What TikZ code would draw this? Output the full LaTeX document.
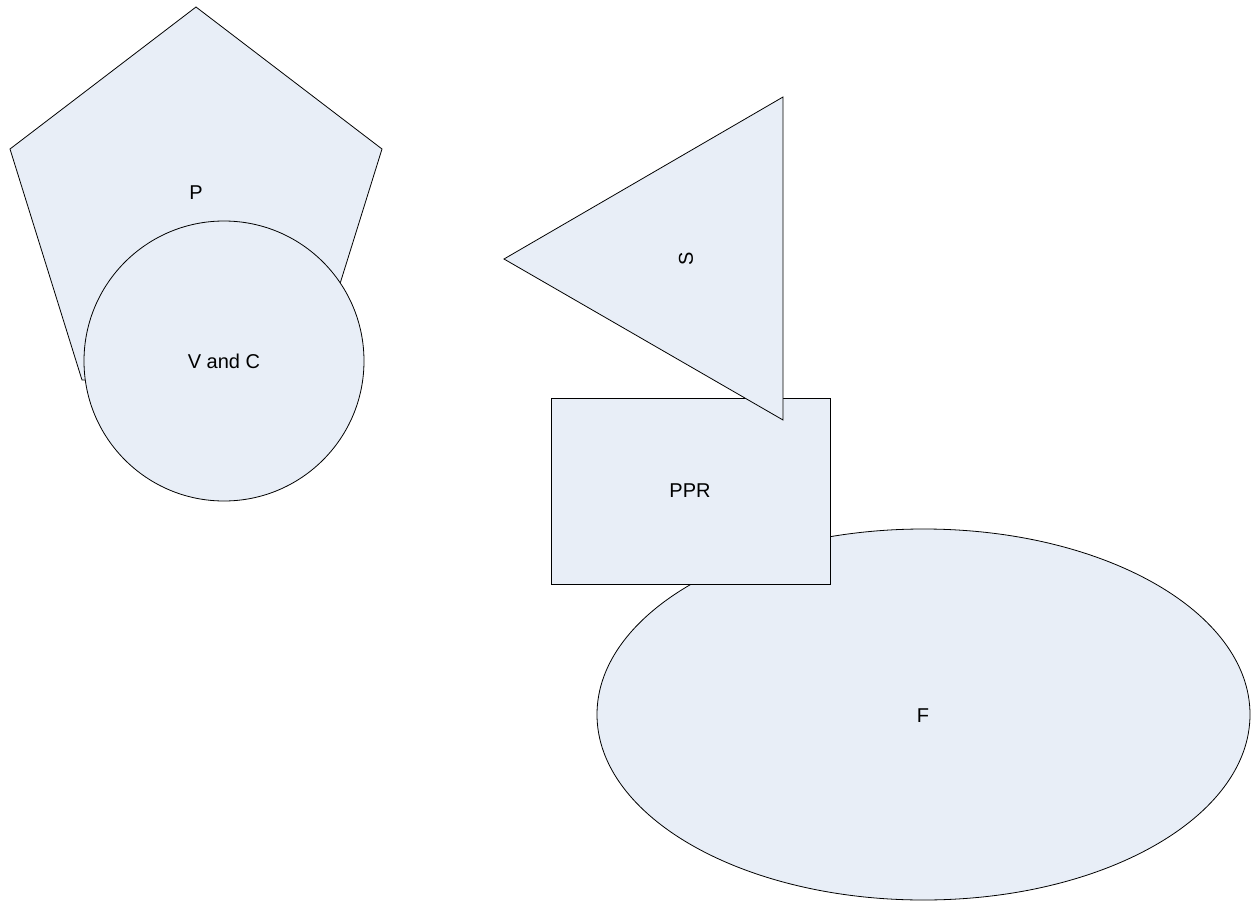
\documentclass[tikz,border=0pt]{standalone}
\usepackage{fontspec}
\setmainfont{Liberation Sans}
\definecolor{paleblue}{RGB}{232,238,247}

\begin{document}
\begin{tikzpicture}[x=1pt,y=-1pt,
    solid shape/.style={draw=black,fill=paleblue,line width=0.8pt,line join=miter},
    lbl/.style={font=\fontsize{20}{24}\selectfont,inner sep=0pt}]
  \useasboundingbox (0,0) rectangle (1254,902);
  % pentagon and circle
  \draw[solid shape] (196,7) -- (382,149) -- (310,380) -- (82,380) -- (10,149) -- cycle;
  \node[lbl] (ptext) at (196,193) {P};
  \draw[solid shape] (224,361) circle[radius=140];
  \node[lbl] (vctext) at (224,361) {V and C};
  % ellipse, rectangle, triangle
  \draw[solid shape] (923.5,714.5) ellipse[x radius=326.5,y radius=185.5];
  \node[lbl] (ftext) at (923,716) {F};
  \draw[solid shape] (551,398) rectangle (830,584);
  \node[lbl] (pprtext) at (690,491) {PPR};
  \draw[solid shape] (504,259) -- (783,97) -- (783,420) -- cycle;
  \node[lbl,rotate=90] (stext) at (686,259) {S};
\end{tikzpicture}
\end{document}
